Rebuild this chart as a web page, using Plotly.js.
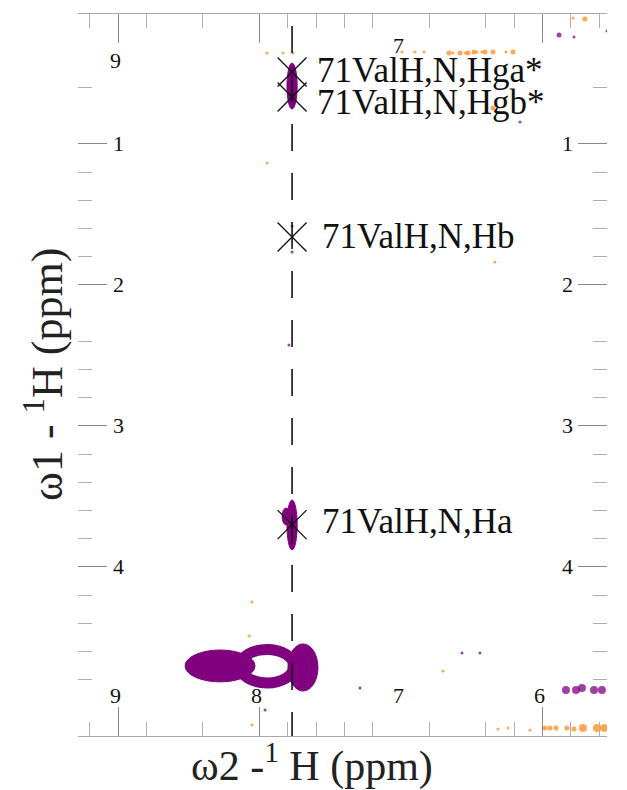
<!DOCTYPE html>
<html><head><meta charset="utf-8">
<script src="https://cdn.plot.ly/plotly-3.0.1.min.js"></script>
<style>html,body{margin:0;padding:0;background:#fff;}#chart{width:627px;height:790px;}</style>
</head><body><div id="chart"></div>
<script>
// ---- data (ppm) ----
const xRange = [9.283, 5.544];          // omega2 1H
const yRange = [5.199, 0.078];          // omega1 1H (reversed)
const xMajorTicks = [9, 8, 6];
const xMinorTicks = [9.2, 8.8, 8.4, 7.8, 7.6, 7.4, 7.2, 6.8, 6.4, 6.2, 5.8, 5.6];
const yMajorTicks = [1, 2, 3, 4];
const yMinorTicks = [0.6, 1.2, 1.4, 1.6, 1.8, 2.4, 2.6, 2.8, 3.2, 3.4, 3.6, 3.8, 4.2, 4.4, 4.6, 4.8];
const xBottomLabels = [9, 8, 7, 6];
const xTopLabels = [9, 7];
const yLabels = [1, 2, 3, 4];
const xTitle = 'ω2 -<sup>1</sup> H (ppm)';
const yTitle = 'ω1 - <sup>1</sup>H (ppm)';

// strip (HN of 71Val)
const stripX = 7.770;
const stripY = [0.163, 5.2];

// assignments
const assignLabels = ['71ValH,N,Hga*', '71ValH,N,Hgb*', '71ValH,N,Hb', '71ValH,N,Ha'];
const assignX = [7.770, 7.770, 7.770, 7.770];
const assignY = [0.489, 0.667, 1.660, 3.700];

// strong contour peaks: centre, half-widths (ppm), kind
const peakX  = [7.770, 7.770, 7.812, 8.279, 7.947, 7.693];
const peakY  = [0.589, 3.702, 3.642, 4.702, 4.704, 4.713];
const peakHW = [0.036, 0.036, 0.028, 0.247, 0.191, 0.106];
const peakHH = [0.163, 0.177, 0.060, 0.113, 0.119, 0.167];
const peakKind = ['solid', 'solid', 'solid', 'solid', 'ring', 'solid'];

// weak peaks, orange (negative) and purple (positive)
const orangeX = [7.947, 7.834, 7.763, 6.993, 6.901, 6.837, 6.661, 6.633, 6.583, 6.548, 6.527, 6.484, 6.463, 6.428, 6.406, 6.350, 6.258, 6.208,
                 6.350, 7.947, 6.336, 8.053, 8.074, 8.053, 6.703, 5.700, 5.784,
                 6.314, 6.244, 6.088, 5.982, 5.947, 5.905, 5.827, 5.777, 5.714, 5.615, 5.565];
const orangeY = [0.355, 0.355, 0.355, 0.348, 0.348, 0.348, 0.355, 0.355, 0.355, 0.355, 0.355, 0.348, 0.348, 0.348, 0.348, 0.348, 0.348, 0.348,
                 0.745, 1.135, 1.837, 4.248, 4.489, 5.121, 4.738, 0.113, 0.106,
                 5.149, 5.142, 5.156, 5.142, 5.142, 5.142, 5.142, 5.149, 5.142, 5.142, 5.142];
const orangeI = [1, 1, 1, 1, 1, 1, 2, 1, 2, 1, 2, 2, 1, 1, 2, 2, 1, 2,
                 2, 1, 1, 1, 1, 1, 1, 2, 1,
                 1, 1, 1, 2, 2, 2, 2, 2, 3, 3, 3];
const purpleX = [5.883, 5.777, 5.544, 6.159, 7.792, 7.770, 7.770, 7.961, 6.569, 6.442, 7.290, 5.834, 5.763, 5.721, 5.636, 5.580];
const purpleY = [0.227, 0.241, 0.199, 0.844, 2.426, 1.582, 1.766, 5.014, 4.610, 4.610, 4.858, 4.872, 4.872, 4.858, 4.872, 4.872];
const purpleI = [2, 1, 1, 1, 1, 1, 1, 1, 1, 1, 1, 3, 3, 3, 3, 3];

// ---- drawing ----
const PURPLE = '#800080';
const ORANGE = '#ff8a1c';
const SERIF = '"Liberation Serif", "Times New Roman", Times, serif';
const sizeOf = i => [0, 3, 5, 8][i];

const traces = [
  {x: orangeX, y: orangeY, mode: 'markers', type: 'scatter', hoverinfo: 'skip',
   marker: {color: ORANGE, size: orangeI.map(sizeOf), opacity: 0.75, line: {width: 0}}},
  {x: purpleX, y: purpleY, mode: 'markers', type: 'scatter', hoverinfo: 'skip',
   marker: {color: PURPLE, size: purpleI.map(sizeOf), opacity: 0.75, line: {width: 0}}},
  {x: [stripX, stripX], y: stripY, mode: 'lines', type: 'scatter', hoverinfo: 'skip',
   line: {color: '#111', width: 1.6, dash: '27px,22px'}},
  {x: assignX, y: assignY, mode: 'markers', type: 'scatter', hoverinfo: 'skip',
   marker: {symbol: 'x-thin-open', size: 29, color: '#111', line: {color: '#111', width: 1.3}}}
];

const shapes = peakX.map((cx, i) => {
  const ring = peakKind[i] === 'ring';
  return {
    type: 'circle', xref: 'x', yref: 'y', layer: 'below',
    x0: cx + peakHW[i], x1: cx - peakHW[i],
    y0: peakY[i] - peakHH[i], y1: peakY[i] + peakHH[i],
    fillcolor: ring ? 'rgba(0,0,0,0)' : PURPLE,
    line: {color: PURPLE, width: ring ? 11 : 1}
  };
});

const annotations = [];
assignLabels.forEach((t, i) => {
  annotations.push({x: assignX[i], y: assignY[i], xref: 'x', yref: 'y', text: t, showarrow: false,
    xanchor: 'left', yanchor: 'middle', xshift: i < 2 ? 23 : 28, yshift: i === 1 ? -5 : (i === 3 ? 3 : 1),
    font: {family: SERIF, size: 35, color: '#111'}});
});
yLabels.forEach(v => {
  annotations.push({x: 0, y: v, xref: 'paper', yref: 'y', text: String(v), showarrow: false,
    xanchor: 'center', yanchor: 'middle', xshift: 40, font: {family: SERIF, size: 22, color: '#111'}});
  annotations.push({x: 1, y: v, xref: 'paper', yref: 'y', text: String(v), showarrow: false,
    xanchor: 'center', yanchor: 'middle', xshift: -40, font: {family: SERIF, size: 22, color: '#111'}});
});
xBottomLabels.forEach(v => {
  annotations.push({x: v, y: 0, xref: 'x', yref: 'paper', text: String(v), showarrow: false,
    xanchor: 'center', yanchor: 'middle', xshift: -3, yshift: 41, font: {family: SERIF, size: 22, color: '#111'}});
});
xTopLabels.forEach((v, i) => {
  annotations.push({x: v, y: 1, xref: 'x', yref: 'paper', text: String(v), showarrow: false,
    xanchor: 'center', yanchor: 'middle', xshift: -3, yshift: i === 0 ? -46 : -31, font: {family: SERIF, size: 22, color: '#111'}});
});
// axis titles
annotations.push({x: 0.4423, y: 0, xref: 'paper', yref: 'paper', text: xTitle, showarrow: false,
  xanchor: 'center', yanchor: 'top', yshift: 2, font: {family: SERIF, size: 42, color: '#222'}});
annotations.push({x: 0, y: 0.5, xref: 'paper', yref: 'paper', text: yTitle, showarrow: false, textangle: -90,
  xanchor: 'center', yanchor: 'middle', xshift: -34, font: {family: SERIF, size: 44, color: '#222'}});

const axisCommon = {
  showgrid: false, zeroline: false, showticklabels: false,
  ticks: 'inside', ticklen: 29, tickwidth: 1, tickcolor: '#8a8a8a', mirror: 'ticks',
  tickmode: 'array'
};

const layout = {
  width: 627, height: 790,
  margin: {l: 78, r: 20, t: 14, b: 54},
  paper_bgcolor: '#fff', plot_bgcolor: '#fff',
  showlegend: false,
  font: {family: SERIF, color: '#111'},
  xaxis: Object.assign({}, axisCommon, {
    range: xRange, tickvals: xMajorTicks,
    showline: true, linecolor: '#aaaaaa', linewidth: 1,
    minor: {ticks: 'inside', ticklen: 14, tickwidth: 1, tickcolor: '#b0b0b0', tickmode: 'array', tickvals: xMinorTicks, showgrid: false}
  }),
  yaxis: Object.assign({}, axisCommon, {
    range: yRange, tickvals: yMajorTicks,
    showline: false,
    minor: {ticks: 'inside', ticklen: 14, tickwidth: 1, tickcolor: '#b0b0b0', tickmode: 'array', tickvals: yMinorTicks, showgrid: false}
  }),
  shapes: shapes,
  annotations: annotations
};

Plotly.newPlot('chart', traces, layout, {staticPlot: true, displayModeBar: false});
</script></body></html>
